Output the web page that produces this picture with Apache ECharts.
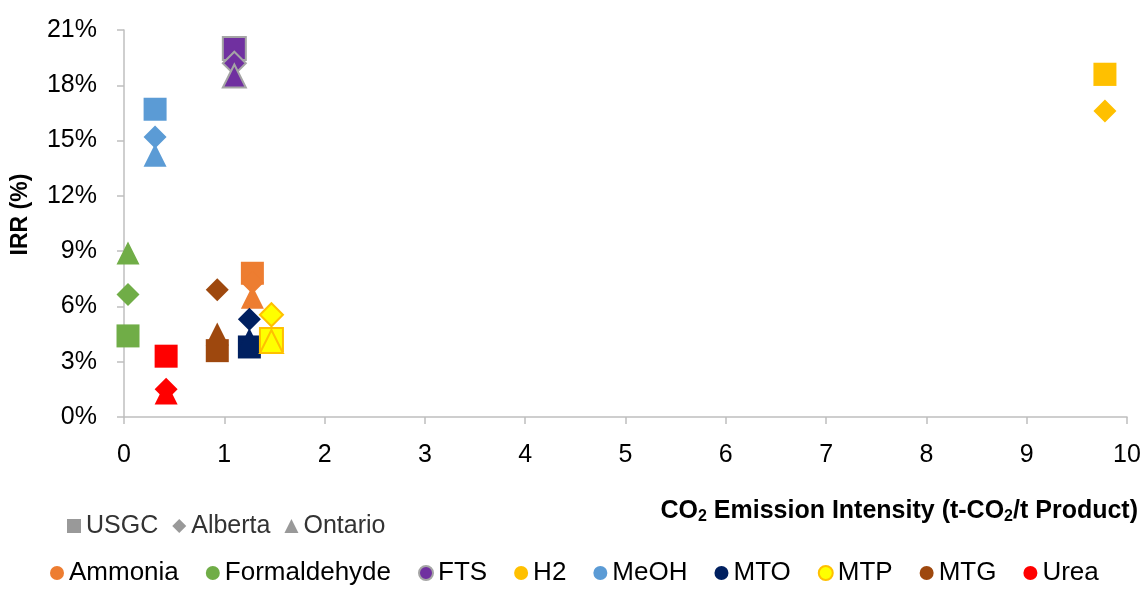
<!DOCTYPE html>
<html>
<head>
<meta charset="utf-8">
<script src="https://cdn.jsdelivr.net/npm/echarts@6/dist/echarts.min.js"></script>
<style>html,body{margin:0;padding:0;background:#fff}#c{width:1146px;height:589px}</style>
</head>
<body>
<div id="c"></div>
<script>
// Products and their CO2 emission intensity (t-CO2/t product)
const products = ['Ammonia', 'Formaldehyde', 'FTS', 'H2', 'MeOH', 'MTO', 'MTP', 'MTG', 'Urea'];
const emission = [1.28, 0.04, 1.10, 9.78, 0.31, 1.25, 1.47, 0.93, 0.42];
// IRR (%) by location
const irrUSGC    = [7.8, 4.4, 20.0, 18.6, 16.7, 3.8, 4.2, 3.6, 3.3];
const irrAlberta = [7.3, 6.65, 19.2, 16.6, 15.2, 5.3, 5.55, 6.9, 1.5];
const irrOntario = [6.5, 8.9, 18.5, 18.6, 14.2, 4.2, 4.1, 4.5, 1.3];
const locations = ['USGC', 'Alberta', 'Ontario'];
const locationShapes = ['rect', 'diamond', 'triangle'];
const colors = ['#ED7D31', '#70AD47', '#7030A0', '#FFC000', '#5B9BD5', '#002060', '#FFFF00', '#9E480E', '#FF0000'];
const borders = [null, null, '#A5A5A5', null, null, null, '#FFC000', null, null];
const xTicks = [0, 10, 1];
const yTicks = [0, 21, 3];

const FONT = 'Liberation Sans';
const irrByLoc = [irrUSGC, irrAlberta, irrOntario];

const series = [];
products.forEach((p, i) => {
  const st = { color: colors[i], opacity: 1 };
  if (borders[i]) { st.borderColor = borders[i]; st.borderWidth = 2; }
  series.push({
    name: p,
    type: 'scatter',
    symbolSize: 23,
    itemStyle: st,
    emphasis: { disabled: true },
    data: locations.map((loc, k) => ({ value: [emission[i], irrByLoc[k][i]], symbol: locationShapes[k] }))
  });
});
locations.forEach((loc) => {
  series.push({ name: loc, type: 'scatter', data: [], itemStyle: { color: '#7F7F7F' } });
});

const chart = echarts.init(document.getElementById('c'));
chart.setOption({
  animation: false,
  textStyle: { fontFamily: FONT },
  grid: { left: 124, right: 19, top: 30, bottom: 172, containLabel: false, outerBoundsMode: 'none' },
  xAxis: {
    type: 'value', min: xTicks[0], max: xTicks[1], interval: xTicks[2],
    splitLine: { show: false },
    axisLine: { show: true, lineStyle: { color: '#BFBFBF', width: 1.5 } },
    axisTick: { show: true, length: 7, lineStyle: { color: '#BFBFBF', width: 1.5 } },
    axisLabel: { color: '#000', fontSize: 25, margin: 26, fontFamily: FONT },
    name: 'CO{s|2} Emission Intensity (t-CO{s|2}/t Product)',
    nameLocation: 'end',
    nameGap: 11,
    nameTextStyle: {
      fontFamily: FONT, fontSize: 25, fontWeight: 'bold', color: '#000',
      align: 'right', verticalAlign: 'top', padding: [80, 0, 0, 0],
      rich: {
        s: { fontFamily: FONT, fontSize: 16, fontWeight: 'bold', color: '#000', padding: [12, 0, 0, 0] }
      }
    }
  },
  yAxis: {
    type: 'value', min: yTicks[0], max: yTicks[1], interval: yTicks[2],
    splitLine: { show: false },
    axisLine: { show: true, lineStyle: { color: '#BFBFBF', width: 1.5 } },
    axisTick: { show: true, length: 7, lineStyle: { color: '#BFBFBF', width: 1.5 } },
    axisLabel: { color: '#000', fontSize: 25, margin: 27, formatter: '{value}%', fontFamily: FONT },
    name: 'IRR (%)',
    nameLocation: 'middle',
    nameGap: 92,
    nameTextStyle: { fontFamily: FONT, fontSize: 23, fontWeight: 'bold', color: '#000', padding: [0, 0, 0, 18] }
  },
  legend: [
    {
      left: 67, top: 511, padding: 0, itemGap: 14, itemWidth: 14, itemHeight: 14,
      selectedMode: false,
      textStyle: { fontFamily: FONT, fontSize: 25, color: '#333', lineHeight: 30 },
      data: locations.map((l, k) => ({ name: l, icon: locationShapes[k] }))
    },
    {
      left: 50, top: 558, padding: 0, itemGap: 27, itemWidth: 14, itemHeight: 14,
      selectedMode: false,
      icon: 'circle',
      textStyle: { fontFamily: FONT, fontSize: 26, color: '#000', lineHeight: 30 },
      data: products
    }
  ],
  series: series
});
</script>
</body>
</html>
